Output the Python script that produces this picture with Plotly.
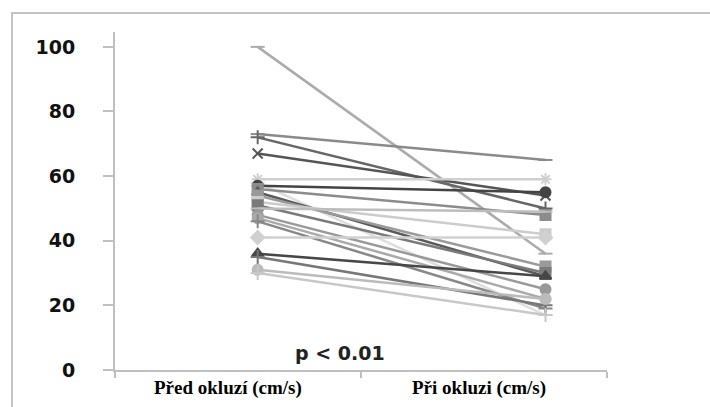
import plotly.graph_objects as go

# Flow velocity per patient before and during occlusion (cm/s)
categories = ["Před okluzí (cm/s)", "Při okluzi (cm/s)"]
before = [100, 73, 72, 67, 59, 58, 57, 56, 55, 54, 52, 51, 50, 48, 47, 46, 41, 36, 35, 31, 30]
after = [36, 65, 50, 54, 59, 17, 55, 48, 29, 32, 42, 30, 49, 25, 22, 19, 41, 29, 20, 22, 17]
p_label = "p < 0.01"
y_ticks = [0, 20, 40, 60, 80, 100]

# Styling for each patient's line
colors = ["#ababab", "#8a8a8a", "#666666", "#555555", "#cfcfcf", "#dedede", "#444444",
          "#8c8c8c", "#5a5a5a", "#9a9a9a", "#cccccc", "#7a7a7a", "#bdbdbd", "#999999",
          "#aaaaaa", "#888888", "#d0d0d0", "#474747", "#777777", "#bbbbbb", "#c8c8c8"]
symbols = ["line-ew-open", "line-ew-open", "cross-thin-open", "x-thin-open", "asterisk-open",
           "line-ew-open", "circle", "square", "triangle-up", "square", "square", "square",
           "line-ew-open", "circle", "circle", "cross-thin-open", "diamond", "triangle-up",
           "cross-thin-open", "circle", "cross-thin-open"]

# horizontal positions of the two measurements on the axis (axis spans 0..2)
x_before, x_after = 0.58, 1.75
label_x = [0.46, 1.48]

fig = go.Figure()
for b, a, c, s in zip(before, after, colors, symbols):
    fig.add_trace(go.Scatter(
        x=[x_before, x_after], y=[b, a], mode="lines+markers",
        line=dict(color=c, width=2.5),
        marker=dict(symbol=s, size=10, color=c, line=dict(color=c, width=2)),
        showlegend=False, hoverinfo="skip", cliponaxis=False,
    ))

fig.update_layout(
    width=710, height=407,
    margin=dict(l=115, r=103, t=32, b=37),
    paper_bgcolor="white", plot_bgcolor="white",
    xaxis=dict(range=[0, 2], tickvals=[0, 1, 2], showticklabels=False,
               showline=True, linecolor="#bfbfbf", linewidth=2,
               ticks="outside", ticklen=6, tickcolor="#bfbfbf", tickwidth=1.5,
               showgrid=False, zeroline=False),
    yaxis=dict(range=[0, 104.6], tickvals=y_ticks, showline=True, linecolor="#bfbfbf",
               linewidth=2, ticks="outside", ticklen=10, tickcolor="#bfbfbf", tickwidth=1.5,
               ticklabelstandoff=24,
               tickfont=dict(family="DejaVu Sans", size=19, color="#111111", weight="bold"),
               showgrid=False, zeroline=False),
    shapes=[dict(type="rect", xref="paper", yref="paper",
                 x0=(12 - 115) / 492, x1=(740 - 115) / 492,
                 y0=(370 - 440) / 338, y1=1 + (32 - 13) / 338,
                 line=dict(color="#c4c4c4", width=2), fillcolor="rgba(0,0,0,0)", layer="below")],
)

for txt, lx in zip(categories, label_x):
    fig.add_annotation(x=lx, xref="x", y=(370 - 388) / 338, yref="paper", text=txt,
                       showarrow=False, xanchor="center", yanchor="middle",
                       font=dict(family="Liberation Serif", size=19, color="#000000", weight="bold"))

fig.add_annotation(x=(340 - 115) / 246, xref="x", y=(370 - 353) / 338, yref="paper",
                   text=p_label, showarrow=False, xanchor="center", yanchor="middle",
                   font=dict(family="DejaVu Sans", size=19, color="#222222", weight="bold"))

fig.write_html("out.html")
